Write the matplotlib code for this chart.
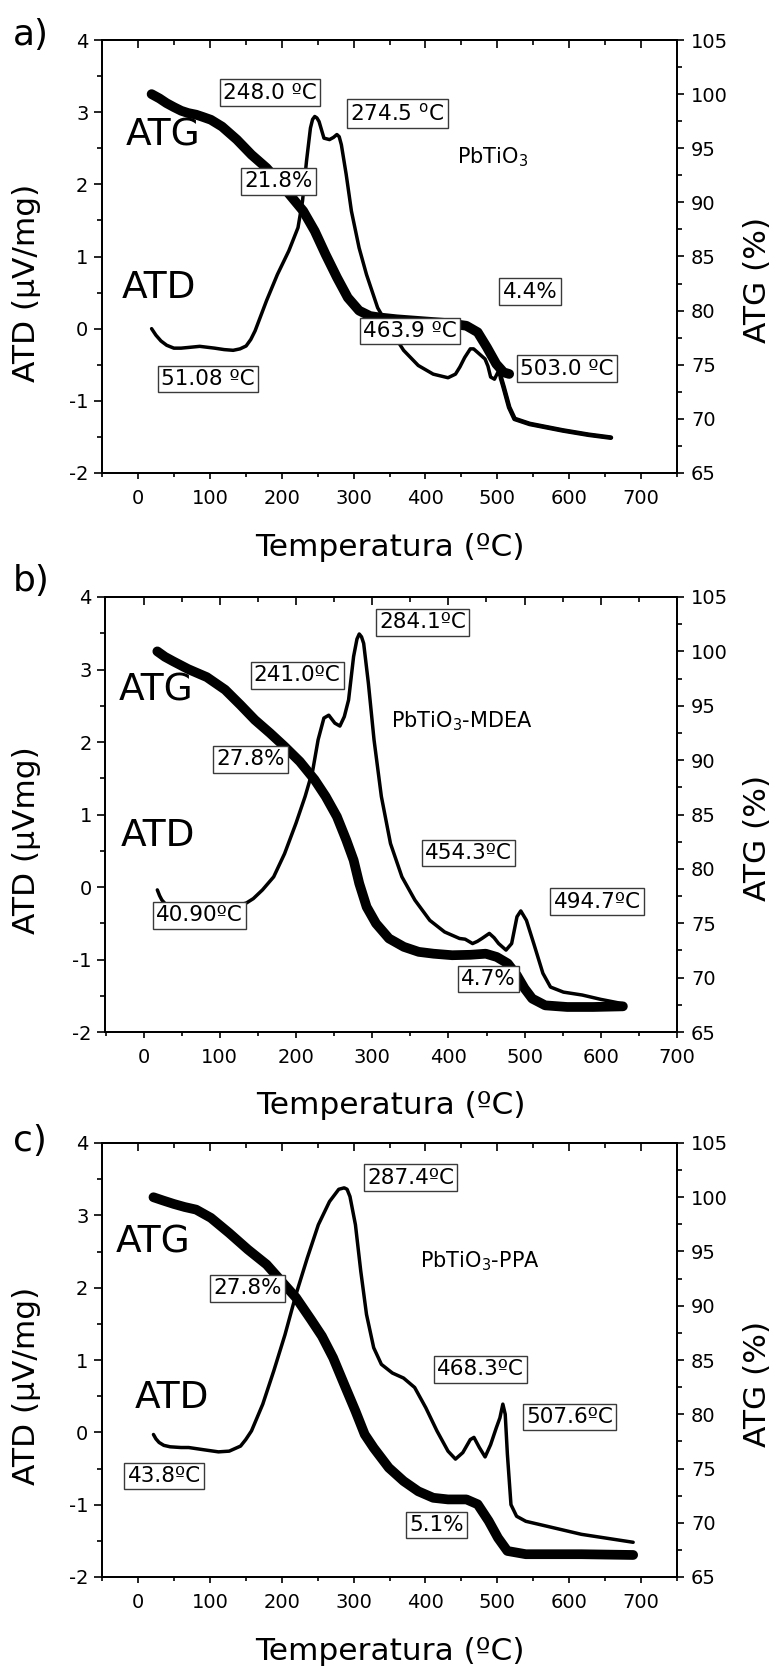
import matplotlib
matplotlib.use("Agg")
import matplotlib.pyplot as plt
from matplotlib.ticker import MultipleLocator
import numpy as np

plt.rcParams['font.family'] = ['DejaVu Sans']
plt.rcParams['axes.unicode_minus'] = False
plt.rcParams['mathtext.fontset'] = 'dejavusans'

# ---------------- data: PbTiO3 ----------------
a_atd_t = [19, 25, 32, 40, 50, 60, 70.6, 86, 106.7, 120, 132.5, 142, 150.5, 157, 163, 171, 179, 194,
           210, 222.7, 229, 234.5, 240, 243, 246, 249, 252, 258.8, 266.5, 272, 276.8, 280, 283, 289.7,
           297, 307.7, 318, 333.5, 349, 369.6, 390, 410.8, 431.4, 441.8, 448, 454.6, 462.4, 467, 472.7,
           482.9, 487, 490.7, 496, 501, 505, 508.8, 516.5, 524, 545, 591, 627, 658]
a_atd_v = [0.0, -0.09, -0.17, -0.23, -0.27, -0.27, -0.26, -0.245, -0.27, -0.29, -0.30, -0.28, -0.24,
           -0.15, -0.03, 0.18, 0.39, 0.75, 1.08, 1.40, 1.77, 2.32, 2.78, 2.90, 2.94, 2.92, 2.87, 2.64,
           2.62, 2.65, 2.69, 2.66, 2.55, 2.14, 1.63, 1.12, 0.75, 0.29, 0.02, -0.30, -0.51, -0.63, -0.68,
           -0.63, -0.53, -0.40, -0.28, -0.28, -0.33, -0.42, -0.52, -0.67, -0.70, -0.60, -0.68, -0.81,
           -1.09, -1.25, -1.32, -1.41, -1.47, -1.51]
a_atg_t = [19, 30, 39.7, 50, 60.3, 70, 81, 90, 101.5, 117, 137.6, 158, 179, 199.5, 215, 230, 246, 261,
           277, 292, 307.7, 323, 336, 360, 400, 430, 457, 472.7, 485.6, 498.5, 508.8, 516.5]
a_atg_v = [100.0, 99.6, 99.17, 98.8, 98.46, 98.25, 98.1, 97.9, 97.63, 97.0, 95.8, 94.4, 93.18, 91.65,
           90.4, 89.2, 87.35, 85.2, 83.05, 81.2, 80.0, 79.5, 79.37, 79.2, 79.0, 78.85, 78.6, 78.0, 76.6,
           75.07, 74.3, 74.15]

# ---------------- data: PbTiO3-MDEA ----------------
b_atd_t = [18, 21, 24, 30, 40, 60, 80, 100, 120, 135, 144, 156, 170.7, 185, 200, 212, 222, 229, 236.6,
           243, 251, 257.6, 263.4, 269, 275.6, 280, 283, 286, 288.8, 295, 302.4, 312, 324, 339, 356,
           375.6, 395, 414.6, 422, 431.7, 438, 444, 453.7, 460, 465.9, 475.6, 483, 490, 495, 502.4,
           512, 524, 534, 551, 575.6, 600, 629]
b_atd_v = [-0.04, -0.12, -0.18, -0.25, -0.29, -0.30, -0.30, -0.29, -0.27, -0.22, -0.16, -0.04, 0.14,
           0.46, 0.88, 1.25, 1.61, 2.03, 2.33, 2.37, 2.26, 2.22, 2.35, 2.58, 3.18, 3.42, 3.49, 3.45,
           3.36, 2.81, 2.03, 1.25, 0.60, 0.14, -0.18, -0.46, -0.62, -0.71, -0.72, -0.78, -0.75, -0.71,
           -0.64, -0.70, -0.78, -0.87, -0.78, -0.41, -0.33, -0.46, -0.78, -1.19, -1.38, -1.45, -1.49,
           -1.55, -1.61]
b_atg_t = [18, 28, 39, 58.5, 83, 107, 127, 146, 166, 185, 205, 224.4, 239, 253.7, 266, 275.6, 283,
           292.7, 305, 322, 341.5, 361, 380.5, 405, 429, 449, 463.4, 478, 490, 500, 510, 527, 556,
           590, 629]
b_atg_v = [100.0, 99.5, 99.08, 98.37, 97.63, 96.47, 95.08, 93.7, 92.48, 91.25, 89.87, 88.2, 86.65,
           84.8, 82.65, 80.8, 78.66, 76.5, 74.98, 73.6, 72.83, 72.37, 72.2, 72.06, 72.1, 72.2, 71.9,
           71.3, 70.2, 69.0, 68.07, 67.45, 67.3, 67.3, 67.36]

# ---------------- data: PbTiO3-PPA ----------------
c_atd_t = [21.6, 25, 29.4, 36, 44.8, 60, 70.6, 91, 112, 127, 142.8, 150, 158, 173.7, 189, 204.6, 220,
           235.6, 251, 266.5, 279.4, 287, 291, 295, 302.6, 310, 318, 328, 338.7, 354, 369.6, 385,
           400.5, 416, 431.4, 441.8, 452, 462.4, 467.5, 475, 483, 490.7, 498.5, 503.6, 507.7, 511,
           514, 519, 526.8, 539.7, 565.5, 617, 689]
c_atd_v = [-0.03, -0.09, -0.14, -0.18, -0.20, -0.21, -0.21, -0.24, -0.27, -0.26, -0.19, -0.10, 0.02,
           0.39, 0.85, 1.35, 1.91, 2.41, 2.87, 3.19, 3.36, 3.38, 3.36, 3.26, 2.87, 2.23, 1.63, 1.17,
           0.94, 0.82, 0.75, 0.62, 0.34, 0.02, -0.26, -0.37, -0.28, -0.10, -0.07, -0.21, -0.34, -0.17,
           0.06, 0.20, 0.39, 0.25, -0.30, -1.0, -1.16, -1.23, -1.29, -1.41, -1.52]
c_atg_t = [21.6, 35, 50, 65, 81, 101.5, 127, 153, 179, 199.5, 220, 240.7, 256, 271.6, 287, 302.6,
           315.5, 328, 349, 369.6, 390, 410.8, 431.4, 457, 472.7, 488, 501, 514, 539.7, 617, 689]
c_atg_v = [100.0, 99.7, 99.38, 99.1, 98.86, 98.1, 96.7, 95.18, 93.8, 92.27, 90.74, 88.73, 87.2, 85.2,
           82.75, 80.3, 78.14, 76.9, 75.07, 73.84, 72.9, 72.3, 72.15, 72.15, 71.7, 70.16, 68.6, 67.4,
           67.1, 67.1, 67.03]

# boxed annotations: (text, T, ATD value)
a_boxes = [("248.0 ºC", 183.5, 3.27), ("274.5 $^{\\rm o}$C", 360.8, 2.98), ("21.8%", 195.4, 2.04),
           ("4.4%", 545.4, 0.515), ("463.9 ºC", 379, -0.03), ("503.0 ºC", 596.4, -0.553),
           ("51.08 ºC", 97, -0.70)]
b_boxes = [("241.0ºC", 201.5, 2.92), ("284.1ºC", 365.8, 3.65), ("27.8%", 140.5, 1.76),
           ("40.90ºC", 73.2, -0.39), ("454.3ºC", 426.3, 0.47), ("494.7ºC", 595, -0.20),
           ("4.7%", 452.7, -1.27)]
c_boxes = [("287.4ºC", 379.4, 3.52), ("27.8%", 152.6, 1.99), ("43.8ºC", 36.6, -0.60),
           ("468.3ºC", 476.3, 0.87), ("507.6ºC", 600.5, 0.215), ("5.1%", 415, -1.28)]

panels = [
    dict(tag="a)", rect=(102, 40, 677, 473), xlim=(-50, 750), ylab="ATD (μV/mg)",
         atd=(a_atd_t, a_atd_v), atg=(a_atg_t, a_atg_v), boxes=a_boxes,
         sample=("PbTiO$_3$", 444, 2.37), atg_lab=(34.5, 2.68), atd_lab=(28.9, 0.56),
         tag_y=35, heavy_tail=505),
    dict(tag="b)", rect=(105.5, 597, 677, 1032), xlim=(-50, 700), ylab="ATD (μVmg)",
         atd=(b_atd_t, b_atd_v), atg=(b_atg_t, b_atg_v), boxes=b_boxes,
         sample=("PbTiO$_3$-MDEA", 324.4, 2.29), atg_lab=(16, 2.71), atd_lab=(19, 0.70),
         tag_y=581, heavy_tail=None),
    dict(tag="c)", rect=(102, 1143, 677, 1577), xlim=(-50, 750), ylab="ATD (μV/mg)",
         atd=(c_atd_t, c_atd_v), atg=(c_atg_t, c_atg_v), boxes=c_boxes,
         sample=("PbTiO$_3$-PPA", 392.8, 2.36), atg_lab=(21.6, 2.62), atd_lab=(48, 0.48),
         tag_y=1141, heavy_tail=None),
]

W, H = 776, 1668
fig = plt.figure(figsize=(W / 100, H / 100), dpi=100)

box_style = dict(boxstyle="square,pad=0.15", fc="white", ec="#3a3a3a", lw=1.0)

for p in panels:
    l, t, r, b = p["rect"]
    ax = fig.add_axes([l / W, 1 - b / H, (r - l) / W, (b - t) / H])
    ax2 = ax.twinx()

    ax.set_xlim(*p["xlim"])
    ax.set_ylim(-2, 4)
    ax2.set_ylim(65, 105)

    for s in list(ax.spines.values()) + list(ax2.spines.values()):
        s.set_linewidth(1.3)

    ax.xaxis.set_major_locator(MultipleLocator(100))
    ax.xaxis.set_minor_locator(MultipleLocator(50))
    ax.yaxis.set_major_locator(MultipleLocator(1))
    ax.yaxis.set_minor_locator(MultipleLocator(0.5))
    ax2.yaxis.set_major_locator(MultipleLocator(5))
    ax2.yaxis.set_minor_locator(MultipleLocator(2.5))

    ax.tick_params(axis='x', which='major', direction='out', length=4.5, width=1.2,
                   labelsize=14, pad=7)
    ax.tick_params(axis='x', which='minor', direction='out', length=3, width=1.2)
    ax.tick_params(axis='y', which='major', direction='out', length=5.8, width=1.2,
                   labelsize=14, pad=4)
    ax.tick_params(axis='y', which='minor', direction='out', length=3.6, width=1.2)
    ax2.tick_params(axis='y', which='major', direction='out', length=5, width=1.2,
                    labelsize=14, pad=5)
    ax2.tick_params(axis='y', which='minor', direction='out', length=3.6, width=1.2)

    top = ax.secondary_xaxis('top')
    top.xaxis.set_major_locator(MultipleLocator(100))
    top.xaxis.set_minor_locator(MultipleLocator(50))
    top.tick_params(which='major', direction='in', length=5.8, width=1.2, labeltop=False)
    top.tick_params(which='minor', direction='in', length=3.6, width=1.2)
    top.spines['top'].set_linewidth(1.3)

    ax.set_xlabel("Temperatura (ºC)", fontsize=22.5)
    ax.xaxis.set_label_coords(0.5, -74 / (b - t))
    ax.xaxis.label.set_verticalalignment('center')

    ax.set_ylabel(p["ylab"], fontsize=22.5)
    ax.yaxis.set_label_coords((27 - l) / (r - l), 0.44)
    ax.yaxis.label.set_verticalalignment('center')
    ax2.set_ylabel("ATG (%)", fontsize=22.5)
    ax2.yaxis.set_label_coords((758 - l) / (r - l), 0.445)
    ax2.yaxis.label.set_verticalalignment('center')

    # DTA trace (left axis) and TGA trace (right axis)
    t_atd, v_atd = p["atd"]
    ax2.plot(t_atd, v_atd, color="black", lw=2.5, solid_joinstyle='round',
             solid_capstyle='round', transform=ax.transData, zorder=3)
    if p["heavy_tail"] is not None:
        tt = np.array(t_atd)
        vv = np.array(v_atd)
        m = tt >= p["heavy_tail"]
        ax2.plot(tt[m], vv[m], color="black", lw=3.4, solid_capstyle='round',
                 transform=ax.transData, zorder=3)
    t_atg, v_atg = p["atg"]
    ax2.plot(t_atg, v_atg, color="black", lw=7, solid_joinstyle='round',
             solid_capstyle='round', zorder=2)

    for txt, x, y in p["boxes"]:
        ax2.text(x, y, txt, transform=ax.transData, fontsize=15.5, ha='center', va='center',
                 bbox=box_style, zorder=5)

    s, sx, sy = p["sample"]
    ax2.text(sx, sy, s, transform=ax.transData, fontsize=15, ha='left', va='center', zorder=5)
    ax2.text(*p["atg_lab"], "ATG", transform=ax.transData, fontsize=27, ha='center',
             va='center', zorder=5)
    ax2.text(*p["atd_lab"], "ATD", transform=ax.transData, fontsize=27, ha='center',
             va='center', zorder=5)

    fig.text(13 / W, 1 - p["tag_y"] / H, p["tag"], fontsize=26, ha='left', va='center')

fig.savefig("out.png", dpi=100)
